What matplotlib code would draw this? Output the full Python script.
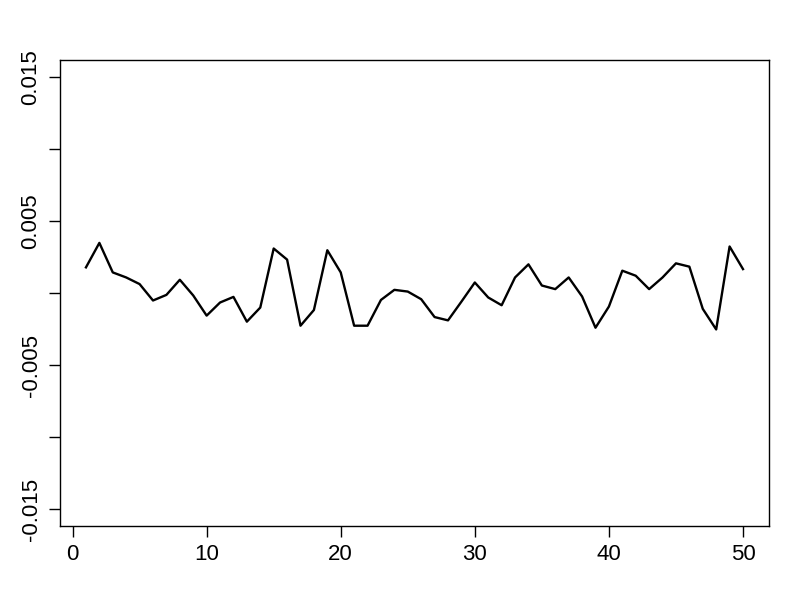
import matplotlib
matplotlib.use("Agg")
import matplotlib.pyplot as plt
import numpy as np

plt.rcParams['font.family'] = ['Liberation Sans', 'DejaVu Sans']

index = list(range(1, 51))
values = [0.00178, 0.00348, 0.00143, 0.00108, 0.00062, -0.00052, -0.00013, 0.00092, -0.00017, -0.00157,
          -0.00066, -0.00027, -0.00199, -0.00101, 0.00309, 0.00232, -0.00227, -0.00118, 0.00297, 0.00143,
          -0.00227, -0.00227, -0.00048, 0.00022, 0.00010, -0.00043, -0.00167, -0.00190, -0.00060, 0.00073,
          -0.00031, -0.00085, 0.00108, 0.00199, 0.00052, 0.00027, 0.00108, -0.00024, -0.00241, -0.00094,
          0.00155, 0.00120, 0.00027, 0.00108, 0.00206, 0.00183, -0.00110, -0.00253, 0.00323, 0.00166]
x_ticks = [0, 10, 20, 30, 40, 50]
y_ticks = [-0.015, -0.010, -0.005, 0.0, 0.005, 0.010, 0.015]
y_labels = ['-0.015', '', '-0.005', '', '0.005', '', '0.015']

fig = plt.figure(figsize=(8, 6), dpi=100)
ax = fig.add_axes([0.0746, 0.1228, 0.887, 0.7777])
ax.plot(index, values, color='black', linewidth=1.7)
ax.set_xlim(-0.96, 51.96)
ax.set_ylim(-0.0162, 0.0162)
ax.set_xticks(x_ticks)
ax.set_xticklabels([str(t) for t in x_ticks])
ax.set_yticks(y_ticks)
ax.set_yticklabels(y_labels, rotation=90, va='center')
ax.tick_params(axis='both', direction='out', length=8, width=1, labelsize=16, pad=5, color='black')
for s in ax.spines.values():
    s.set_linewidth(1)
    s.set_color('black')

fig.savefig('out.png', dpi=100)
